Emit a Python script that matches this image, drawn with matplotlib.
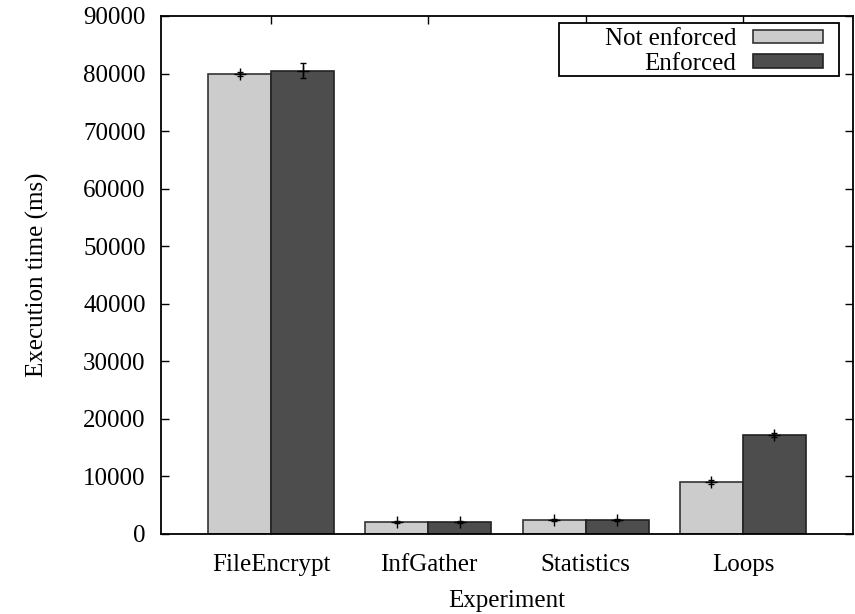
import numpy as np
import matplotlib
matplotlib.use("Agg")
import matplotlib.pyplot as plt
from matplotlib.patches import Rectangle

# data
experiments = ["FileEncrypt", "InfGather", "Statistics", "Loops"]
not_enforced = [79900, 2100, 2400, 9000]
enforced = [80450, 2100, 2400, 17200]
err_not_enforced = [300, 150, 200, 300]
err_enforced = [1300, 150, 200, 400]
yticks = [0, 10000, 20000, 30000, 40000, 50000, 60000, 70000, 80000, 90000]

plt.rcParams["font.family"] = ["Liberation Serif", "DejaVu Serif"]
plt.rcParams["font.size"] = 18

W, H = 855, 614
fig = plt.figure(figsize=(W / 100, H / 100), dpi=100)
ax = fig.add_axes([161 / W, (H - 534) / H, (853 - 161) / W, (534 - 16) / H])

x = np.arange(len(experiments))
w = 0.4
light = "#cccccc"
dark = "#4d4d4d"

ax.bar(x - w / 2, not_enforced, w, color=light, edgecolor="#333333", linewidth=1.2,
       label="Not enforced", zorder=2)
ax.bar(x + w / 2, enforced, w, color=dark, edgecolor="#222222", linewidth=1.2,
       label="Enforced", zorder=2)

ax.errorbar(x - w / 2, not_enforced, yerr=err_not_enforced, fmt="+", color="black",
            ms=8, mew=1, elinewidth=1, capsize=2.5, zorder=3)
ax.errorbar(x + w / 2, enforced, yerr=err_enforced, fmt="+", color="black",
            ms=8, mew=1, elinewidth=1, capsize=2.5, zorder=3)

ax.set_xlim(-0.7, 3.7)
ax.set_ylim(0, 90000)
ax.set_xticks(x)
ax.set_xticklabels(experiments)
ax.set_yticks(yticks)
ax.tick_params(direction="in", length=6, width=1, top=True, right=True)
ax.tick_params(axis="x", pad=14.5)
ax.tick_params(axis="y", pad=11)
for s in ax.spines.values():
    s.set_linewidth(1.3)

ax.set_xlabel("Experiment", labelpad=10)
ax.set_ylabel("Execution time (ms)", labelpad=25)

# gnuplot-style key: wide box, text right-aligned before the sample
box = Rectangle((559 / W, 1 - 76 / H), (839 - 559) / W, (76 - 23) / H,
                transform=fig.transFigure, facecolor="white", edgecolor="black",
                linewidth=1.3, zorder=4)
ax.add_patch(box)
leg = ax.legend(loc="upper right", bbox_to_anchor=(829 / W, 1 - 22 / H),
                bbox_transform=fig.transFigure, markerfirst=False, frameon=False,
                handlelength=2.8, handleheight=0.45, borderpad=0.25,
                labelspacing=0.1, handletextpad=0.65, borderaxespad=0)
leg.set_zorder(5)

fig.savefig("out.png", dpi=100)
